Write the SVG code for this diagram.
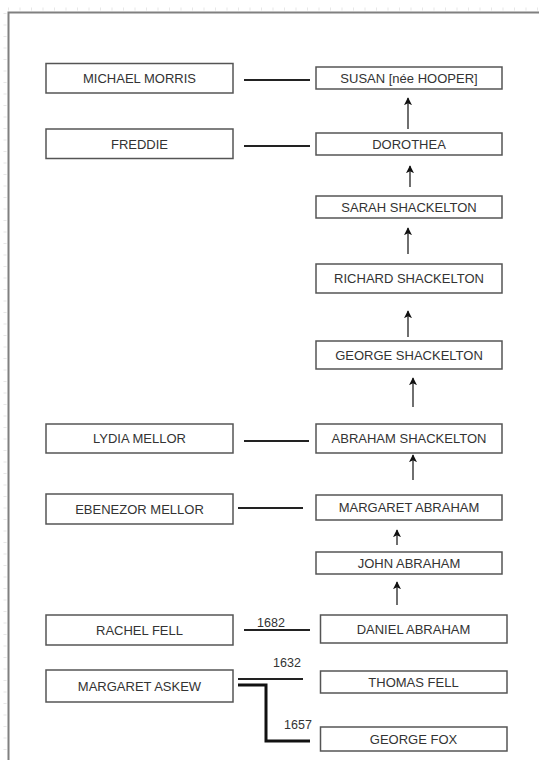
<svg xmlns="http://www.w3.org/2000/svg" width="539" height="760" viewBox="0 0 539 760">
<defs>
<style>
.box{fill:#fff;stroke:#555;stroke-width:1.5}
.t{font-family:"Liberation Sans",Arial,sans-serif;font-size:13px;fill:#333;text-anchor:middle;dominant-baseline:central}
.yr{font-family:"Liberation Sans",Arial,sans-serif;font-size:12.5px;fill:#333;text-anchor:middle}
.line{stroke:#222;stroke-width:2.2;fill:none}
.arr{stroke:#333;stroke-width:1.4;fill:none;marker-end:url(#ah)}
</style>
<marker id="ah" viewBox="0 0 10 10" refX="9" refY="5" markerWidth="8" markerHeight="8" markerUnits="userSpaceOnUse" orient="auto">
<path d="M0,0 L10,5 L0,10 L2.5,5 Z" fill="#111"/>
</marker>
</defs>
<rect width="539" height="760" fill="#fff"/>
<g id="frame">
<line x1="8" y1="9" x2="539" y2="9" stroke="#e8e8e8" stroke-width="3" stroke-dasharray="1 10.5"/>
<line x1="5" y1="13" x2="5" y2="760" stroke="#e8e8e8" stroke-width="3" stroke-dasharray="1 10.5"/>
<path d="M8.5,760 V12.5 H539" fill="none" stroke="#808080" stroke-width="2"/>
</g>
<g id="connectors">
<line class="line" x1="244" y1="80" x2="310" y2="80"/>
<line class="line" x1="244" y1="146" x2="310" y2="146"/>
<line class="line" x1="244" y1="441" x2="309" y2="441"/>
<line class="line" x1="238" y1="508" x2="303" y2="508"/>
<line class="line" x1="244" y1="630" x2="310" y2="630"/>
<line class="line" x1="238" y1="679" x2="303" y2="679"/>
<path d="M238,685 H266 V741 H310" fill="none" stroke="#111" stroke-width="3"/>
<text class="yr" x="271" y="627">1682</text>
<text class="yr" x="287" y="667">1632</text>
<text class="yr" x="298" y="729">1657</text>
<line class="arr" x1="408" y1="129" x2="408" y2="98"/>
<line class="arr" x1="410" y1="187" x2="410" y2="166"/>
<line class="arr" x1="408" y1="254" x2="408" y2="228"/>
<line class="arr" x1="408" y1="337" x2="408" y2="311"/>
<line class="arr" x1="413" y1="407" x2="413" y2="378"/>
<line class="arr" x1="413" y1="480" x2="413" y2="455"/>
<line class="arr" x1="397" y1="545" x2="397" y2="530"/>
<line class="arr" x1="397" y1="605" x2="397" y2="582"/>
</g>
<g id="michael-morris"><rect class="box" x="46" y="63.5" width="187" height="29.5"/><text class="t" x="139.5" y="78.5">MICHAEL MORRIS</text></g>
<g id="susan"><rect class="box" x="316" y="67" width="186" height="22"/><text class="t" x="409" y="78">SUSAN [née HOOPER]</text></g>
<g id="freddie"><rect class="box" x="46" y="129" width="187" height="29.5"/><text class="t" x="139.5" y="144">FREDDIE</text></g>
<g id="dorothea"><rect class="box" x="316" y="133" width="186" height="22"/><text class="t" x="409" y="144">DOROTHEA</text></g>
<g id="sarah-shackelton"><rect class="box" x="316" y="196" width="186" height="22"/><text class="t" x="409" y="207">SARAH SHACKELTON</text></g>
<g id="richard-shackelton"><rect class="box" x="316" y="264" width="186" height="29"/><text class="t" x="409" y="278.5">RICHARD SHACKELTON</text></g>
<g id="george-shackelton"><rect class="box" x="316" y="341" width="186" height="28"/><text class="t" x="409" y="355">GEORGE SHACKELTON</text></g>
<g id="lydia-mellor"><rect class="box" x="46" y="424" width="187" height="29"/><text class="t" x="139.5" y="438.5">LYDIA MELLOR</text></g>
<g id="abraham-shackelton"><rect class="box" x="316" y="424" width="186" height="29"/><text class="t" x="409" y="438.5">ABRAHAM SHACKELTON</text></g>
<g id="ebenezor-mellor"><rect class="box" x="46" y="494" width="187" height="30"/><text class="t" x="139.5" y="509">EBENEZOR MELLOR</text></g>
<g id="margaret-abraham"><rect class="box" x="316" y="495" width="186" height="25"/><text class="t" x="409" y="507.5">MARGARET ABRAHAM</text></g>
<g id="john-abraham"><rect class="box" x="316" y="552" width="186" height="22"/><text class="t" x="409" y="563">JOHN ABRAHAM</text></g>
<g id="rachel-fell"><rect class="box" x="46" y="615" width="187" height="30"/><text class="t" x="139.5" y="630">RACHEL FELL</text></g>
<g id="daniel-abraham"><rect class="box" x="320.5" y="615" width="186.5" height="28"/><text class="t" x="413.5" y="629">DANIEL ABRAHAM</text></g>
<g id="margaret-askew"><rect class="box" x="46" y="670" width="187" height="32"/><text class="t" x="139.5" y="686">MARGARET ASKEW</text></g>
<g id="thomas-fell"><rect class="box" x="320.5" y="671" width="186.5" height="22"/><text class="t" x="413.5" y="682">THOMAS FELL</text></g>
<g id="george-fox"><rect class="box" x="320.5" y="727" width="186.5" height="24"/><text class="t" x="413.5" y="739">GEORGE FOX</text></g>
</svg>
